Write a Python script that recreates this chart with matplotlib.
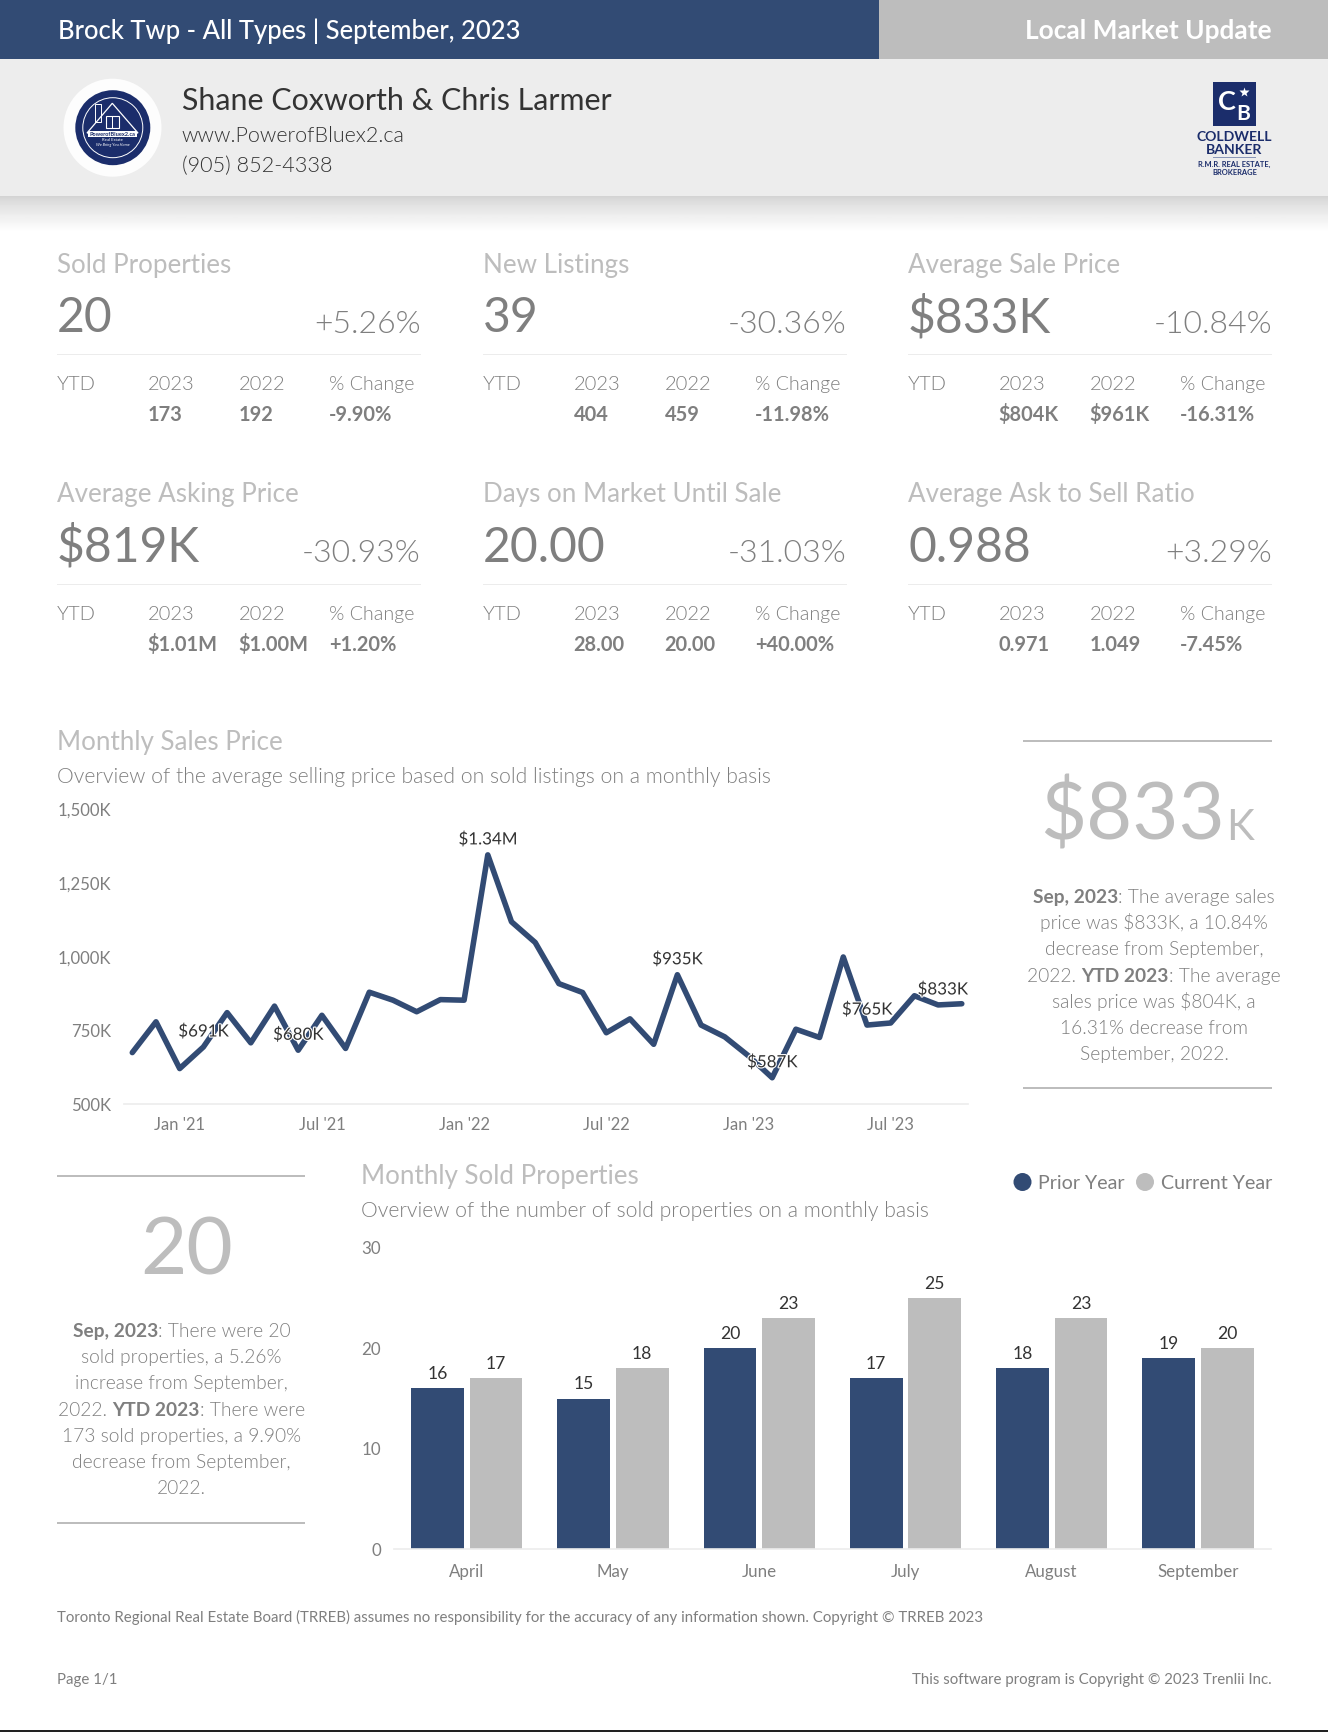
import numpy as np
import matplotlib
matplotlib.use('Agg')
import matplotlib.pyplot as plt
import matplotlib.patheffects as pe
from matplotlib.patches import Rectangle, Circle, Polygon
from matplotlib.transforms import ScaledTranslation

plt.rcParams['font.family'] = ['Lato', 'DejaVu Sans']

NAVY = '#324b74'
GREY = '#bdbdbd'
MID = '#7f7f7f'
DARK = '#333333'
LOGO = '#1b2d6b'

# monthly sales price, thousands
price_values = [672, 776, 618, 691, 807, 705, 829, 680, 798, 686, 876, 849,
                810, 851, 849, 1340, 1114, 1044, 905, 875, 739, 786, 700, 935,
                765, 725, 661, 587, 751, 723, 995, 765, 772, 864, 833, 837]
price_labels = {3: '$691K', 7: '$680K', 15: '$1.34M', 23: '$935K', 27: '$587K',
                31: '$765K', 34: '$833K'}
price_ticks = [2, 8, 14, 20, 26, 32]
price_ticklabels = ["Jan '21", "Jul '21", "Jan '22", "Jul '22", "Jan '23", "Jul '23"]
price_yticks = [500, 750, 1000, 1250, 1500]
price_yticklabels = ['500K', '750K', '1,000K', '1,250K', '1,500K']

# monthly sold properties
months = ['April', 'May', 'June', 'July', 'August', 'September']
prior_year = [16, 15, 20, 17, 18, 19]
current_year = [17, 18, 23, 25, 23, 20]

# kpi cards
card_titles = ['Sold Properties', 'New Listings', 'Average Sale Price',
               'Average Asking Price', 'Days on Market Until Sale', 'Average Ask to Sell Ratio']
card_values = ['20', '39', '$833K', '$819K', '20.00', '0.988']
card_changes = ['+5.26%', '-30.36%', '-10.84%', '-30.93%', '-31.03%', '+3.29%']
ytd_2023 = ['173', '404', '$804K', '$1.01M', '28.00', '0.971']
ytd_2022 = ['192', '459', '$961K', '$1.00M', '20.00', '1.049']
ytd_change = ['-9.90%', '-11.98%', '-16.31%', '+1.20%', '+40.00%', '-7.45%']

price_note = [[('Sep, 2023', True), (': The average sales', False)],
              [('price was $833K, a 10.84%', False)],
              [('decrease from September,', False)],
              [('2022. ', False), ('YTD 2023', True), (': The average', False)],
              [('sales price was $804K, a', False)],
              [('16.31% decrease from', False)],
              [('September, 2022.', False)]]
sold_note = [[('Sep, 2023', True), (': There were 20', False)],
             [('sold properties, a 5.26%', False)],
             [('increase from September,', False)],
             [('2022. ', False), ('YTD 2023', True), (': There were', False)],
             [('173 sold properties, a 9.90%', False)],
             [('decrease from September,', False)],
             [('2022.', False)]]

W, H = 1328, 1732
fig = plt.figure(figsize=(W / 100, H / 100), dpi=100, facecolor='white')


def axes_px(x0, y0, x1, y1, **kw):
    # y0 is the top edge in picture pixels
    return fig.add_axes([x0 / W, 1 - y1 / H, (x1 - x0) / W, (y1 - y0) / H], **kw)


# line chart
ax1 = axes_px(124, 807.5, 967.7, 1103.5)
ax1.patch.set_alpha(0)
x_price = np.arange(len(price_values))
ax1.plot(x_price, price_values, color=NAVY, lw=4.0, solid_joinstyle='round',
         solid_capstyle='round', clip_on=False)
ax1.set_xlim(-0.35, 35.25)
ax1.set_ylim(500, 1500)
for s in ['top', 'left', 'right']:
    ax1.spines[s].set_visible(False)
ax1.spines['bottom'].set_color('#ececec')
ax1.spines['bottom'].set_linewidth(1.2)
ax1.set_xticks(price_ticks, price_ticklabels)
ax1.set_yticks(price_yticks, price_yticklabels)
ax1.tick_params(length=0, labelcolor=MID)
ax1.tick_params(axis='x', labelsize=11.9, pad=10)
ax1.tick_params(axis='y', labelsize=12.1, pad=9.5)
for lab in ax1.get_yticklabels():
    lab.set_transform(lab.get_transform() + ScaledTranslation(0, -1.2 / 100, fig.dpi_scale_trans))
for i, lab in price_labels.items():
    dx = 3.4 if i == 34 else 0
    ax1.annotate(lab, (i, price_values[i]), xytext=(dx, 11.3), textcoords='offset points',
                 ha='center', va='center', fontsize=12.2, color=DARK,
                 path_effects=[pe.withStroke(linewidth=1.6, foreground='white')])

# bar chart
ax2 = axes_px(393.6, 1248, 1271, 1549)
ax2.patch.set_alpha(0)
x_bar = np.arange(len(months))
b1 = ax2.bar(x_bar - 0.2, prior_year, 0.361, color=NAVY)
b2 = ax2.bar(x_bar + 0.2, current_year, 0.361, color=GREY)
ax2.bar_label(b1, padding=4.6, fontsize=12.6, color=DARK)
ax2.bar_label(b2, padding=4.6, fontsize=12.6, color=DARK)
ax2.set_xlim(-0.5, 5.5)
ax2.set_ylim(0, 30)
for s in ['top', 'left', 'right']:
    ax2.spines[s].set_visible(False)
ax2.spines['bottom'].set_color('#ececec')
ax2.spines['bottom'].set_linewidth(1.2)
ax2.set_xticks(x_bar, months)
ax2.set_yticks([0, 10, 20, 30])
ax2.tick_params(length=0, labelcolor=MID, labelsize=12.2)
ax2.tick_params(axis='x', pad=11)
ax2.tick_params(axis='y', pad=9)

# page furniture in picture pixels
pg = fig.add_axes([0, 0, 1, 1], zorder=5)
pg.set_xlim(0, W)
pg.set_ylim(H, 0)
pg.axis('off')
pg.patch.set_alpha(0)


def txt(x, yc, s, px, color=MID, ha='left', weight='normal', **kw):
    # yc is the middle of the capitals
    return pg.text(x, yc + 0.36 * px, s, fontsize=px * 0.72, color=color, ha=ha,
                   va='baseline', fontweight=weight, **kw)


def rect(x0, y0, x1, y1, color, **kw):
    pg.add_patch(Rectangle((x0, y0), x1 - x0, y1 - y0, fc=color, ec='none', **kw))


def mixed_line(xc, yc, parts, px):
    # one centred line with bold and light runs
    rend = fig.canvas.get_renderer()
    items = []
    total = 0
    for s, bold in parts:
        t = txt(0, yc, s.replace(' ', '\u00a0'), px, weight='bold' if bold else 300)
        w = t.get_window_extent(rend).width
        items.append((t, w))
        total += w
    x = xc - total / 2
    for t, w in items:
        t.set_x(x)
        x += w


# clip the month labels like the source does
rect(390, 1579.5, 1290, 1592, 'white')

# header
rect(0, 0, 879, 59, NAVY)
rect(879, 0, W, 59, GREY)
rect(0, 59, W, 196, '#ededed')
grad = np.linspace(0, 1, 40).reshape(-1, 1) ** 0.8
pg.imshow(0.83 + 0.17 * grad, extent=(0, W, 232, 196), cmap='gray', vmin=0, vmax=1,
          aspect='auto', zorder=0)
pg.set_xlim(0, W)
pg.set_ylim(H, 0)
txt(57.5, 29.5, 'Brock Twp - All Types | September, 2023', 25.6, color='white', weight=500)
txt(1272, 29.5, 'Local Market Update', 26.3, color='white', ha='right', weight='bold')
txt(181.5, 99, 'Shane Coxworth & Chris Larmer', 30.4, color=DARK)
txt(181.5, 134, 'www.PowerofBluex2.ca', 21.5, color=DARK, weight=300)
txt(181.5, 164, '(905) 852-4338', 21.6, color=DARK, weight=300)

# agent logo
pg.add_patch(Circle((112.5, 127.7), 49, fc='#fdfdfd', ec='none'))
pg.add_patch(Circle((112.8, 127.7), 37.5, fc=LOGO, ec='none'))
pg.add_patch(Circle((112.8, 127.7), 30, fc='none', ec='white', lw=0.7))
pg.add_patch(Polygon([(112.3, 103.3), (87, 133), (138, 133)], closed=True, fc='none', ec='white', lw=0.9))
pg.add_patch(Rectangle((95, 104), 6, 18, fc='none', ec='white', lw=0.7))
pg.add_patch(Rectangle((105.7, 115.7), 13.3, 12.6, fc='none', ec='white', lw=0.8))
rect(112, 115.7, 112.8, 128.3, 'white')
rect(105.7, 121.6, 119, 122.4, 'white')
rect(88, 130.5, 137, 136.5, 'white')
txt(112.5, 133.5, 'PowerofBluex2.ca', 5.6, color=LOGO, ha='center', weight='bold')
txt(112.5, 139.5, 'Real Estate', 4.2, color='white', ha='center')
txt(112.5, 145, 'We Bring You Home', 4, color='white', ha='center', style='italic')

# brokerage logo
rect(1212.7, 82.3, 1256, 125.7, LOGO)
txt(1226.5, 100, 'C', 27, color='white', ha='center', weight='bold')
txt(1243, 112, 'B', 21, color='white', ha='center', weight='bold')
pg.plot([1244], [92], marker='*', ms=7, color='white', mec='none', ls='none')
txt(1234.5, 136, 'COLDWELL', 14, color=LOGO, ha='center', weight='bold')
txt(1234.5, 149, 'BANKER', 14, color=LOGO, ha='center', weight='bold')
rect(1213, 156.5, 1256, 157.5, '#8a97b8')
txt(1234.5, 164.5, 'R.M.R. REAL ESTATE,', 7.5, color=LOGO, ha='center', weight='bold')
txt(1234.5, 172.5, 'BROKERAGE', 7.5, color=LOGO, ha='center', weight='bold')

# cards
card_x = [57, 483, 908]
card_y = [0, 229.5]
for i in range(6):
    x = card_x[i % 3]
    dy = card_y[i // 3]
    txt(x, 263.5 + dy, card_titles[i], 26, color=GREY)
    txt(x, 315 + dy, card_values[i], 48, color=MID)
    txt(x + 364, 321 + dy, card_changes[i], 32, color=MID, ha='right', weight=300)
    rect(x, 354 + dy, x + 364, 355 + dy, '#ececec')
    for off, s, size in zip([0, 90.5, 181.5, 272], ['YTD', '2023', '2022', '% Change'], [20.2, 20.2, 20.2, 19.6]):
        txt(x + off, 383 + dy, s, size, color=MID, weight=300)
    txt(x + 90.5, 414 + dy, ytd_2023[i], 20, weight='bold')
    txt(x + 181.5, 414 + dy, ytd_2022[i], 20, weight='bold')
    txt(x + 272, 414 + dy, ytd_change[i], 20, weight='bold')

# line chart heads
txt(57, 741, 'Monthly Sales Price', 26, color=GREY)
txt(57, 775, 'Overview of the average selling price based on sold listings on a monthly basis', 21.2, weight=300)

# price side panel
rect(1023, 740, 1272, 742, GREY)
rect(1023, 1087, 1272, 1089, GREY)
txt(1040, 811, '$833', 79.5, color=GREY)
txt(1226, 825, 'K', 42, color=GREY)
for i, parts in enumerate(price_note):
    mixed_line(1154, 896 + i * 26.2, parts, 19.2)

# sold side panel
rect(57, 1174.5, 305, 1176.5, GREY)
rect(57, 1521.5, 305, 1523.5, GREY)
txt(187, 1246, '20', 80, color=GREY, ha='center')
for i, parts in enumerate(sold_note):
    mixed_line(181.5, 1330 + i * 26.2, parts, 19.2)

# bar chart heads and legend
txt(361, 1175, 'Monthly Sold Properties', 26, color=GREY)
txt(361, 1209.5, 'Overview of the number of sold properties on a monthly basis', 21.1, weight=300)
pg.add_patch(Circle((1022.5, 1182), 9, fc=NAVY, ec='none'))
txt(1038, 1182, 'Prior Year', 19.6)
pg.add_patch(Circle((1145, 1182), 9, fc=GREY, ec='none'))
txt(1161, 1182, 'Current Year', 19.6)

# footer
txt(57, 1617, 'Toronto Regional Real Estate Board (TRREB) assumes no responsibility for the accuracy of any information shown. Copyright \u00a9 TRREB 2023', 15.05)
txt(57, 1679, 'Page 1/1', 15.05)
txt(1272, 1679, 'This software program is Copyright \u00a9 2023 Trenlii Inc.', 15, ha='right')
rect(0, 1730, W, H, '#222222')

fig.savefig('out.png', dpi=100)
